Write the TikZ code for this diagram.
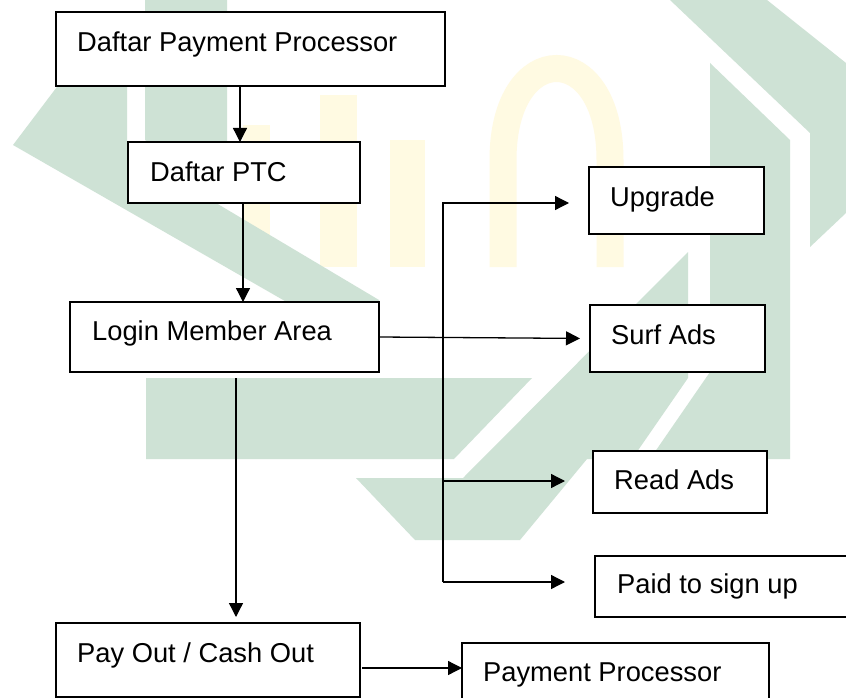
\documentclass[tikz,border=0pt]{standalone}
\usepackage{fontspec}
\setmainfont{Liberation Sans}
\usetikzlibrary{arrows.meta}
\definecolor{wmgreen}{HTML}{CEE2D5}
\definecolor{wmyellow}{HTML}{FFFAE2}
\begin{document}
\begin{tikzpicture}[x=1pt,y=-1pt,
  box/.style={draw=black, line width=1.4pt, fill=white, rectangle,
    anchor=north west, inner sep=0pt, outer sep=0pt},
  lbl/.style={anchor=base west, inner sep=0pt,
    font=\fontsize{27.3}{32}\selectfont},
  arr/.style={line width=1.3pt, -{Triangle[length=14pt,width=14pt]}},
  wm/.style={fill=wmgreen, draw=none},
  wmy/.style={fill=wmyellow, draw=none}]

\useasboundingbox (0,0) rectangle (846,698);
\clip (0,0) rectangle (846,698);
\fill[white] (0,0) rectangle (846,698);

% faded logo in the background
\fill[wmy] (243,125) rectangle (270,267);
\fill[wmy] (320,95) rectangle (357,267);
\fill[wmy] (390,140) rectangle (425,267);
\draw[wmyellow, line width=27pt]
  (503,267) -- (503,160) .. controls (503,38) and (610,38) .. (610,160) -- (610,267);
\fill[wm] (13,145) -- (100,30) -- (127,30) -- (127,150) -- (379,300) -- (379,355) -- cycle;
\fill[wm] (145,0) -- (227,0) -- (227,188) -- (145,140) -- cycle;
\fill[wm] (146,378) -- (532,378) -- (454,459) -- (146,459) -- cycle;
\fill[wm] (688,252) -- (688,378) -- (632,459) -- (587,459) -- (520,540)
  -- (415,540) -- (356,478) -- (463,478) -- cycle;
\fill[wm] (710,63) -- (790,140) -- (790,459) -- (650,459) -- (710,372) -- cycle;
\fill[wm] (670,0) -- (767,0) -- (846,63) -- (846,213) -- (810,247) -- (810,133) -- cycle;

% boxes
\node[box, minimum width=389pt, minimum height=74pt] (b1) at (56,12) {};
\node[box, minimum width=232pt, minimum height=61pt] (b2) at (128,142) {};
\node[box, minimum width=309pt, minimum height=70pt] (b3) at (70,302) {};
\node[box, minimum width=175pt, minimum height=67pt] (b4) at (589,167) {};
\node[box, minimum width=175pt, minimum height=67pt] (b5) at (590,305) {};
\node[box, minimum width=174pt, minimum height=62pt] (b6) at (593,451) {};
\node[box, minimum width=280pt, minimum height=61pt] (b7) at (595,556) {};
\node[box, minimum width=304pt, minimum height=74pt] (b8) at (56,623) {};
\node[box, minimum width=307pt, minimum height=80pt] (b9) at (462,643) {};

% box texts
\node[lbl] (t1) at ([shift={(21pt,-40pt)}]b1.north west) {Daftar Payment Processor};
\node[lbl] (t2) at ([shift={(22pt,-40pt)}]b2.north west) {Daftar PTC};
\node[lbl] (t3) at ([shift={(22pt,-38pt)}]b3.north west) {Login Member Area};
\node[lbl] (t4) at ([shift={(21pt,-39pt)}]b4.north west) {Upgrade};
\node[lbl] (t5) at ([shift={(21pt,-39pt)}]b5.north west) {Surf Ads};
\node[lbl] (t6) at ([shift={(21pt,-38pt)}]b6.north west) {Read Ads};
\node[lbl] (t7) at ([shift={(22pt,-37pt)}]b7.north west) {Paid to sign up};
\node[lbl] (t8) at ([shift={(21pt,-39pt)}]b8.north west) {Pay Out / Cash Out};
\node[lbl] (t9) at ([shift={(21pt,-38pt)}]b9.north west) {Payment Processor};

% connectors
\draw[arr] ([xshift=184pt]b1.south west) -- ([xshift=112pt]b2.north west);
\draw[arr] ([xshift=115pt]b2.south west) -- ([xshift=173pt]b3.north west);
\draw[arr, shorten >=6pt] ([xshift=166pt,yshift=-6pt]b3.south west) -- ([xshift=180pt]b8.north west);
\draw[arr, shorten >=10pt] (b3.east) -- (b5.west);

\coordinate (bustop) at (443,203);
\coordinate (busbot) at (443,582);
\coordinate (readfrom) at (442,481);
\draw[arr, shorten >=20pt] (busbot) -- (bustop) -- (bustop -| b4.west);
\draw[arr, shorten >=28pt] (readfrom) -- (readfrom -| b6.west);
\draw[arr, shorten >=30pt] (busbot) -- (busbot -| b7.west);

\coordinate (ppfrom) at ([xshift=2pt,yshift=-8pt]b8.east);
\draw[arr] (ppfrom) -- (ppfrom -| b9.west);
\end{tikzpicture}
\end{document}
